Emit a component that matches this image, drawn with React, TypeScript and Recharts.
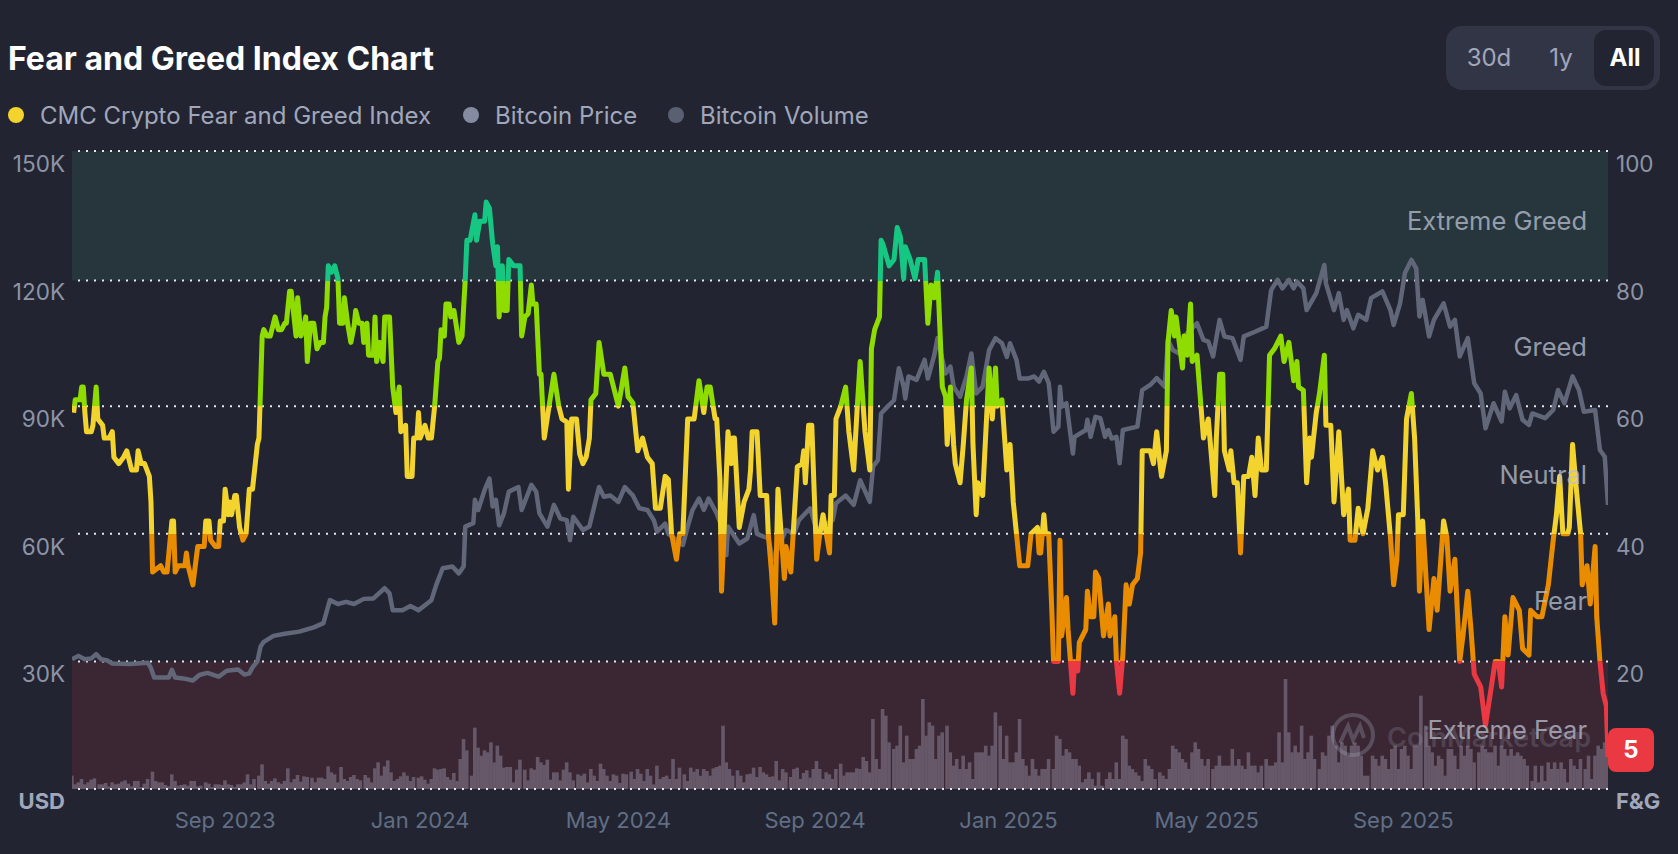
import { Bar, ComposedChart, Line, ReferenceArea, ReferenceLine, XAxis, YAxis } from "recharts";

const font = "Inter, sans-serif";

// days since the first sample
const xTicks = [95, 216, 339, 461, 581, 704, 826];
const xLabels = ["Sep 2023", "Jan 2024", "May 2024", "Sep 2024", "Jan 2025", "May 2025", "Sep 2025"];
const lastDay = 953;

const usdTicks = [0, 30, 60, 90, 120, 150];
const fgTicks = [0, 20, 40, 60, 80, 100];
const zoneBreaks = [100, 79.7, 60, 40, 20, 0];
const zoneColors = ["#16C784", "#8FDC00", "#F3D42F", "#EA8C00", "#EA3943"];

const zoneNames = ["Extreme Greed", "Greed", "Neutral", "Fear", "Extreme Fear"];
const ranges = ["30d", "1y", "All"];

const fearGreed: [number, number][] = [
  [1, 59], [2, 61], [5, 61], [6, 63], [7, 63], [8, 59], [9, 56], [12, 56], [13, 57], [15, 63], [16, 58], [19, 57], [20, 55], [23, 55], [25, 56], [26, 52], [29, 51], [32, 52], [34, 53], [36, 51], [37, 50], [40, 50], [41, 53], [43, 51], [45, 51], [48, 49], [49, 45], [50, 34],
  [55, 35], [57, 34], [59, 34], [62, 42], [63, 42], [64, 34], [66, 35], [70, 35], [71, 37], [72, 35], [75, 32], [76, 34], [78, 38], [82, 38], [83, 42], [85, 42], [86, 39], [89, 38], [91, 38], [92, 42], [94, 42], [95, 47], [97, 43], [98, 45], [99, 43], [101, 46], [102, 46], [104, 41], [106, 39], [108, 40], [110, 47], [112, 47], [115, 54], [116, 55], [118, 71], [119, 72], [121, 71], [123, 71], [126, 74], [128, 72], [130, 72], [132, 73], [133, 73], [135, 78], [136, 78], [139, 71], [140, 77], [142, 71], [144, 72.5], [145, 74], [146, 67], [148, 73], [150, 73], [152, 69], [154, 70], [156, 70], [157, 74], [158, 75.5], [159, 82], [161, 81], [163, 82], [165, 80], [166, 73], [168, 73], [169, 77], [171, 73], [173, 70], [175, 72.5], [176, 75], [178, 73], [180, 73], [181, 70], [183, 73], [184, 68], [187, 68], [188, 74], [189, 67], [191, 70], [193, 67], [194, 74], [197, 74], [199, 63], [201, 59], [203, 63], [204, 56], [207, 57], [208, 49], [211, 49], [212, 55], [214, 55], [215, 59], [216, 55], [219, 57], [221, 55], [223, 55], [225, 60], [227, 67], [228, 67.5], [229, 72], [231, 71], [232, 76], [234, 76], [235, 74], [237, 75], [240, 70], [242, 71], [244, 80], [245, 86], [247, 86], [250, 90], [251, 86], [253, 89], [256, 89], [257, 92], [259, 91], [261, 85.5], [263, 82], [264, 85], [265, 74], [267, 82], [268, 75], [270, 75], [271, 83], [274, 82], [276, 82], [278, 82], [279, 71], [281, 74], [283, 74.5], [285, 79], [286, 76], [288, 76], [290, 65],
  [291, 65], [293, 55], [296, 60], [299, 65], [302, 60], [304, 58], [307, 57.5], [308, 47], [310, 58], [313, 58], [315, 52.5], [317, 51], [319, 52], [321, 55], [322, 61], [325, 62], [327, 70], [330, 65], [334, 65], [337, 62], [339, 60], [341, 63], [343, 66], [345, 61.5], [348, 60.5], [349, 58], [351, 53], [354, 55], [357, 52], [360, 51], [362, 44], [365, 44], [368, 49], [370, 48.5], [372, 40], [375, 36], [377, 40], [379, 40], [382, 58], [386, 58], [389, 64], [392, 59], [394, 63], [396, 63], [399, 58], [400, 58], [402, 48.5], [403, 31], [405, 43], [407, 56], [409, 51], [410, 55], [411, 55], [414, 41], [417, 45], [420, 47], [421, 50], [422, 56], [425, 56], [427, 46], [431, 46], [432, 40], [434, 34], [436, 26], [438, 47], [442, 33], [443, 38], [446, 34], [450, 50.5], [453, 51], [454, 53], [455, 48], [457, 57], [459, 57], [461, 43], [462, 36], [464, 40], [466, 43], [468, 40], [470, 37], [471, 46], [473, 46], [474, 58], [477, 60], [480, 63], [482, 56], [485, 50], [487, 59], [489, 67], [492, 56], [495, 50], [496, 69], [498, 72], [501, 74], [502, 86], [503, 85.5], [507, 82], [510, 83], [512, 88], [514, 86.5], [516, 80], [517, 85], [520, 83], [523, 80], [525, 83], [529, 83], [531, 73], [533, 79], [535, 77], [537, 81], [540, 63], [542, 61.5], [543, 54], [545, 63], [547, 54], [548, 51], [551, 48], [553, 54], [555, 61], [558, 66], [559, 54], [561, 43], [562, 48], [565, 46], [568, 61], [569, 66], [571, 58], [573, 66], [574, 60], [577, 61], [580, 50], [582, 54], [584, 45], [586, 40], [588, 35], [593, 35], [595, 40], [599, 41], [600, 37],
  [601, 37], [603, 43], [604, 40], [606, 40], [608, 27.5], [609, 20], [612, 20], [613, 39], [614, 24], [617, 30], [618, 25], [621, 15], [622, 20], [624, 18.5], [625, 23], [629, 25], [630, 31], [632, 27], [634, 27], [635, 34], [637, 33], [640, 24], [643, 29], [644, 24], [647, 27], [648, 20], [650, 15], [652, 21], [654, 32], [656, 29], [658, 32], [661, 33], [663, 37], [664, 53], [669, 53], [671, 51], [673, 56], [675, 51], [676, 49], [679, 53], [680, 70], [682, 75], [684, 71], [685, 74], [689, 66], [690, 71], [692, 68], [694, 76], [695, 67], [698, 68], [702, 55], [705, 58], [709, 46], [710, 55], [712, 65], [714, 65], [715, 53], [718, 50], [719, 53], [721, 48], [723, 48], [725, 37], [727, 49], [730, 49], [732, 52], [734, 46], [736, 55], [738, 50], [741, 50], [743, 68], [746, 69], [750, 71], [752, 67], [755, 70], [758, 64], [760, 67], [761, 63], [764, 62.5], [766, 48], [768, 55], [769, 52], [772, 59], [774, 62], [777, 68], [778, 57], [781, 57], [783, 45], [786, 56], [789, 43], [792, 47], [793, 39], [796, 39], [798, 44], [801, 40], [804, 44], [807, 53], [810, 50], [813, 52], [815, 48], [818, 39.5], [820, 32], [822, 36], [823, 43], [826, 43], [828, 58], [831, 62], [833, 55], [835, 42], [836, 31], [838, 42], [842, 25], [845, 33], [847, 28], [851, 42], [853, 39.5], [855, 31], [858, 36], [861, 20], [863, 24], [866, 31], [868, 25], [870, 18], [874, 16], [877, 10], [880, 15], [883, 20], [885, 20], [887, 16], [889, 27], [891, 21], [894, 30], [898, 28], [900, 22], [904, 21], [905, 28], [909, 27], [912, 27], [916, 32], [919, 39], [921, 43], [923, 49], [925, 40], [928, 40], [929, 41], [931, 54], [933, 48], [936, 40], [937, 32], [940, 35], [942, 29], [945, 38], [946, 27], [948, 20], [950, 15], [952, 13], [953, 5],
];

// thousands of USD
const btcPrice: [number, number][] = [
  [0, 30.5], [4, 31.3], [8, 30.5], [12, 30.7], [15, 31.7], [18, 30.5], [22, 30.2], [25, 29.5], [36, 29.4], [47, 29.7], [49, 28.4], [51, 26.2], [60, 26.2], [62, 28], [64, 26.2], [69, 26], [75, 25.5], [79, 26.8], [84, 27.3], [91, 26.4], [96, 27.8], [103, 28.1], [107, 26.9], [110, 27.2], [112, 28.6], [115, 30], [117, 33.5], [119, 34.6], [125, 36], [132, 36.5], [141, 37], [150, 38], [156, 39], [160, 44.4], [165, 43.5], [170, 44], [175, 43.5], [181, 44.7], [187, 44.8], [194, 47.2], [197, 46], [199, 42], [205, 42], [210, 43], [215, 42], [220, 43.5], [223, 44.4], [226, 48], [230, 51.9], [236, 52.3], [240, 50.7], [243, 52.3], [244, 61.7], [249, 62.5], [250, 68], [252, 65.6], [256, 70.3], [259, 73], [261, 66.4], [263, 68], [265, 62], [268, 64.8], [271, 69.9], [277, 71], [279, 65.6], [285, 71.5], [288, 69.9],
  [290, 64.8], [295, 61.7], [299, 66.8], [303, 63.6], [307, 63.2], [309, 58.5], [311, 64], [317, 60.9], [321, 61.7], [324, 66.4], [327, 71], [330, 68.7], [334, 69], [339, 67.5], [343, 71], [348, 69], [352, 66], [357, 65.6], [361, 63.2], [363, 60.5], [368, 62.4], [370, 60], [379, 57.4], [382, 61.7], [385, 65.6], [389, 68.3], [392, 65.6], [395, 68.3], [400, 64.8], [403, 61.7], [406, 55], [407, 61.7], [414, 57.7], [419, 58.9], [423, 64.4], [425, 60], [432, 58.9], [435, 53.8], [443, 60.9], [448, 60], [451, 63.2], [458, 66], [462, 60.9], [472, 63.2], [474, 67.2], [480, 69], [485, 66.8], [489, 72.6], [495, 67.5], [497, 75.8], [500, 77.3], [502, 88.3], [506, 89.9], [510, 91.4], [513, 98.9], [516, 94.6], [517, 91.8], [519, 97], [524, 96.2], [529, 100.9], [531, 96.5], [535, 102], [537, 106], [542, 97.7], [545, 99.3], [547, 94.6], [551, 92.2], [555, 97], [558, 102.4], [561, 93], [565, 94.6], [569, 103.2], [573, 106], [577, 104.8], [580, 101.6], [582, 104.8], [586, 100.9], [588, 96.5], [593, 96.5], [597, 97], [600, 95.8],
  [603, 98.1], [606, 95.4], [609, 84], [612, 85.2], [613, 94.6], [614, 89.9], [617, 90.7], [621, 78.9], [622, 82.8], [629, 84.4], [630, 86.8], [632, 82.8], [635, 87.5], [638, 87.2], [641, 82.8], [643, 84.4], [645, 82.4], [648, 82.8], [650, 76.6], [652, 84.4], [661, 85.2], [664, 93.8], [669, 95], [673, 96.6], [678, 94.6], [680, 105.6], [683, 103.2], [687, 102.4], [691, 106.8], [698, 109.5], [702, 105.6], [705, 105.2], [708, 101.7], [712, 110.3], [715, 106.4], [720, 106], [725, 100.9], [727, 106.4], [734, 107.5], [741, 108.7], [744, 117.3], [748, 119.7], [751, 117.7], [755, 119.7], [758, 117.7], [760, 119.3], [764, 117.7], [766, 112.6], [772, 116.6], [777, 123.2], [778, 118.9], [783, 112.6], [786, 116.6], [789, 110.3], [791, 112.6], [795, 108.3], [798, 111.5], [803, 110.3], [806, 115.4], [813, 117], [818, 112.6], [820, 109.1], [824, 114.2], [827, 121.3], [831, 124.4], [834, 122.4], [836, 111.1], [838, 115], [842, 106.4], [845, 110.3], [851, 114.2], [855, 108.7], [858, 110.3], [861, 101.7], [866, 106], [870, 95.4], [874, 93], [877, 84.8], [882, 90.7], [887, 86.4], [889, 93.4], [892, 89.5], [896, 92.6], [900, 86.8], [904, 85.6], [906, 88.3], [914, 87.2], [919, 89.1], [922, 93.8], [926, 90.7], [931, 97], [935, 93.8], [938, 88.7], [945, 89.1], [948, 79.7], [951, 78.1], [953, 66.8],
];

// billions of USD, one reading every two days
const btcVolume = [
  20, 7, 10, 15, 7, 10, 14, 16, 7, 7, 9, 4, 10, 7, 8, 11, 13, 8, 4, 12, 12, 3, 8, 15, 26, 12, 10, 10, 6, 4, 22, 12, 5, 6, 7, 5, 12, 12, 4, 5, 10, 8, 3, 7, 7, 6, 13, 7, 6, 3, 7, 7, 10, 22, 7, 15, 20, 37, 12, 8, 12, 16, 10, 8, 12, 31, 10, 15, 21, 11, 19, 18, 17, 10, 17, 17, 15, 34, 25, 22, 10, 33, 15, 12, 18, 21, 15, 13, 21, 17, 10, 31, 40, 20, 34, 43, 25, 12, 15, 19, 25, 20, 12, 18, 17, 19, 14, 8, 15, 31, 29, 30, 31, 18, 14, 24, 12, 45, 75, 58, 20, 92, 62, 50, 58, 55, 70, 40, 65, 50, 32, 33, 33, 10, 29, 44, 29, 13, 31, 29, 48, 40, 36, 44, 14, 25, 25, 13, 29, 40, 25, 13, 22, 20, 23,
  10, 30, 20, 12, 38, 30, 20, 12, 22, 20, 9, 23, 22, 26, 15, 30, 23, 12, 30, 20, 7, 35, 15, 18, 20, 15, 45, 15, 32, 22, 12, 32, 26, 30, 20, 30, 27, 20, 31, 33, 35, 95, 40, 30, 20, 28, 20, 10, 22, 23, 32, 18, 33, 25, 22, 18, 19, 42, 13, 30, 25, 18, 30, 32, 15, 24, 28, 17, 30, 42, 30, 15, 25, 22, 15, 30, 38, 20, 25, 25, 25, 31, 30, 48, 42, 25, 105, 45, 30, 120, 110, 70, 60, 65, 95, 40, 80, 45, 45, 60, 65, 135, 80, 100, 95, 45, 80, 85, 95, 55, 35, 45, 30, 50, 30, 40, 15, 55, 55, 55, 65, 50, 65, 115, 95, 45, 80, 40, 40, 55, 105, 45, 35, 20, 45, 30, 20, 30, 30, 45, 30, 80, 75, 50, 60, 55, 45, 45, 35, 10, 15, 25, 15, 5, 25,
  5, 15, 25, 15, 40, 15, 80, 75, 35, 30, 25, 20, 12, 45, 35, 30, 15, 25, 20, 15, 30, 65, 60, 55, 45, 40, 30, 55, 70, 60, 45, 35, 45, 30, 35, 50, 35, 35, 35, 60, 35, 45, 35, 30, 55, 35, 35, 25, 35, 45, 35, 35, 40, 85, 40, 165, 85, 55, 65, 55, 95, 45, 55, 80, 45, 30, 55, 50, 80, 95, 65, 40, 70, 65, 50, 65, 70, 65, 50, 20, 20, 50, 45, 35, 50, 45, 30, 60, 65, 30, 60, 65, 50, 30, 65, 65, 140, 95, 65, 55, 35, 50, 45, 20, 60, 60, 50, 30, 65, 50, 65, 60, 40, 55, 65, 60, 55, 55, 65, 35, 65, 60, 50, 60, 50, 55, 50, 45, 35, 12, 35, 10, 35, 12, 40, 30, 40, 30, 40, 30, 10, 45, 35, 30, 45, 30, 50, 15, 50, 65, 60, 70, 65,
];

const rows = new Map<number, any>();
const rowAt = (day: number) => {
  if (!rows.has(day)) rows.set(day, { day });
  return rows.get(day);
};
fearGreed.forEach(([day, v]) => (rowAt(day).fng = v));
btcPrice.forEach(([day, v]) => (rowAt(day).price = v));
btcVolume.forEach((v, i) => (rowAt(Math.round((i * lastDay) / (btcVolume.length - 1))).volume = v));
const tableData = [...rows.values()].sort((a, b) => a.day - b.day);

const fngValues = fearGreed.map((p) => p[1]);
const fngMax = Math.max(...fngValues);
const fngMin = Math.min(...fngValues);
const stopAt = (v: number) => `${(((fngMax - v) / (fngMax - fngMin)) * 100).toFixed(2)}%`;

const UsdTick = ({ x, y, payload }: any) =>
  payload.value === 0 ? (
    <text x={x + 1} y={y + 12} textAnchor="end" dominantBaseline="central" fill="#A1A7BB" fontSize={22} fontWeight={700} fontFamily={font}>
      USD
    </text>
  ) : (
    <text x={x + 1} y={y + 12.5} textAnchor="end" dominantBaseline="central" fill="#8E94A8" fontSize={22.5} fontFamily={font}>
      {payload.value}K
    </text>
  );

const FgTick = ({ x, y, payload }: any) =>
  payload.value === 0 ? (
    <text x={x} y={y + 12} dominantBaseline="central" fill="#A1A7BB" fontSize={22} fontWeight={700} fontFamily={font}>
      F&amp;G
    </text>
  ) : (
    <text x={x} y={y + 12.5} dominantBaseline="central" fill="#8E94A8" fontSize={22.5} fontFamily={font}>
      {payload.value}
    </text>
  );

const DateTick = ({ x, y, payload }: any) => (
  <text x={x} y={y + 23} textAnchor="middle" dominantBaseline="central" fill="#616E85" fontSize={22} fontFamily={font}>
    {xLabels[xTicks.indexOf(payload.value)]}
  </text>
);

// the axis band is one day wide, a reading covers two
const VolumeBar = ({ x, y, width, height, fill }: any) =>
  height > 0 ? <rect x={x + width / 2 - 1.8} y={y} width={3.6} height={height} fill={fill} /> : null;

const LegendItem = ({ left, color, text }: { left: number; color: string; text: string }) => (
  <>
    <div style={{ position: "absolute", left, top: 107, width: 16, height: 16, borderRadius: 8, background: color }} />
    <div style={{ position: "absolute", left: left + 32, top: 101, fontSize: 24, lineHeight: "30px", color: "#A1A7BB", whiteSpace: "nowrap" }}>{text}</div>
  </>
);

export default function App() {
  return (
    <div style={{ position: "absolute", left: 0, top: 0, width: 1678, height: 854, background: "#222531", overflow: "hidden", fontFamily: font }}>
      <div style={{ position: "absolute", left: 8, top: 37, fontSize: 32, lineHeight: "44px", fontWeight: 700, color: "#fff", whiteSpace: "nowrap" }}>
        Fear and Greed Index Chart
      </div>

      <LegendItem left={8} color="#F3D42F" text="CMC Crypto Fear and Greed Index" />
      <LegendItem left={463} color="#858CA2" text="Bitcoin Price" />
      <LegendItem left={668} color="#5A6072" text="Bitcoin Volume" />

      <div style={{ position: "absolute", left: 1446, top: 26, width: 214, height: 64, borderRadius: 16, background: "#323546" }} />
      <div style={{ position: "absolute", left: 1594, top: 30, width: 60, height: 56, borderRadius: 12, background: "#222531" }} />
      {ranges.map((r, i) => (
        <div
          key={r}
          style={{
            position: "absolute",
            left: [1449, 1531, 1595][i],
            top: 40,
            width: [80, 60, 60][i],
            textAlign: "center",
            fontSize: 24,
            lineHeight: "36px",
            fontWeight: r === "All" ? 700 : 400,
            color: r === "All" ? "#fff" : "#A1A7BB",
          }}
        >
          {r}
        </div>
      ))}

      <div style={{ position: "absolute", left: 0, top: 0 }}>
        <ComposedChart width={1678} height={854} data={tableData} margin={{ top: 151, right: 0, bottom: 0, left: 0 }}>
          <defs>
            <linearGradient id="fngStroke" x1="0" y1="0" x2="0" y2="1">
              {zoneColors.map((c, i) => [
                <stop key={`${i}a`} offset={stopAt(Math.min(zoneBreaks[i], fngMax))} stopColor={c} />,
                <stop key={`${i}b`} offset={stopAt(Math.max(zoneBreaks[i + 1], fngMin))} stopColor={c} />,
              ])}
            </linearGradient>
          </defs>
          <XAxis dataKey="day" type="number" domain={[0, lastDay]} ticks={xTicks} tick={<DateTick />} axisLine={false} tickLine={false} height={65} interval={0} allowDataOverflow />
          <YAxis yAxisId="usd" domain={[0, 150]} ticks={usdTicks} tick={<UsdTick />} axisLine={false} tickLine={false} width={72} interval={0} />
          <YAxis yAxisId="fg" orientation="right" domain={[0, 100]} ticks={fgTicks} tick={<FgTick />} axisLine={false} tickLine={false} width={70} interval={0} />
          <YAxis yAxisId="vol" hide domain={[0, 957]} />

          <ReferenceArea yAxisId="fg" y1={zoneBreaks[1]} y2={100} fill="#26363C" fillOpacity={1} stroke="none" />
          <ReferenceArea yAxisId="fg" y1={0} y2={20} fill="#3B2633" fillOpacity={1} stroke="none" />
          {zoneBreaks.map((v) => (
            <ReferenceLine key={v} yAxisId="fg" y={v} stroke="#E4E7EE" strokeWidth={2} strokeDasharray="2 6" />
          ))}

          <Bar yAxisId="vol" dataKey="volume" fill="#665868" shape={<VolumeBar />} isAnimationActive={false} />
          <Line yAxisId="usd" dataKey="price" type="linear" stroke="#616779" strokeWidth={4.5} strokeLinejoin="round" dot={false} connectNulls isAnimationActive={false} />
          <Line yAxisId="fg" dataKey="fng" type="linear" stroke="url(#fngStroke)" strokeWidth={5} strokeLinejoin="round" dot={false} connectNulls isAnimationActive={false} />
        </ComposedChart>
      </div>

      {zoneNames.map((name, i) => (
        <div
          key={name}
          style={{
            position: "absolute",
            right: 91,
            top: [221, 347, 475, 601, 730][i] - 15,
            fontSize: 25.5,
            lineHeight: "30px",
            color: "#BAC0D0",
            opacity: 0.75,
            whiteSpace: "nowrap",
          }}
        >
          {name}
        </div>
      ))}

      <svg style={{ position: "absolute", left: 1328, top: 710, opacity: 0.3 }} width={50} height={50} viewBox="0 0 50 50">
        <circle cx={25} cy={25} r={20} fill="none" stroke="#A1A7BB" strokeWidth={4} />
        <path d="M12 33 L20 16 L25 30 L32 16 L36 28" fill="none" stroke="#A1A7BB" strokeWidth={4} />
      </svg>
      <div style={{ position: "absolute", left: 1387, top: 718, fontSize: 27, lineHeight: "40px", fontWeight: 600, color: "#A1A7BB", opacity: 0.22, whiteSpace: "nowrap" }}>
        CoinMarketCap
      </div>

      <div style={{ position: "absolute", left: 1608, top: 728, width: 46, height: 44, borderRadius: 8, background: "#EA3943", color: "#fff", fontSize: 24, fontWeight: 700, lineHeight: "44px", textAlign: "center" }}>
        5
      </div>
    </div>
  );
}
